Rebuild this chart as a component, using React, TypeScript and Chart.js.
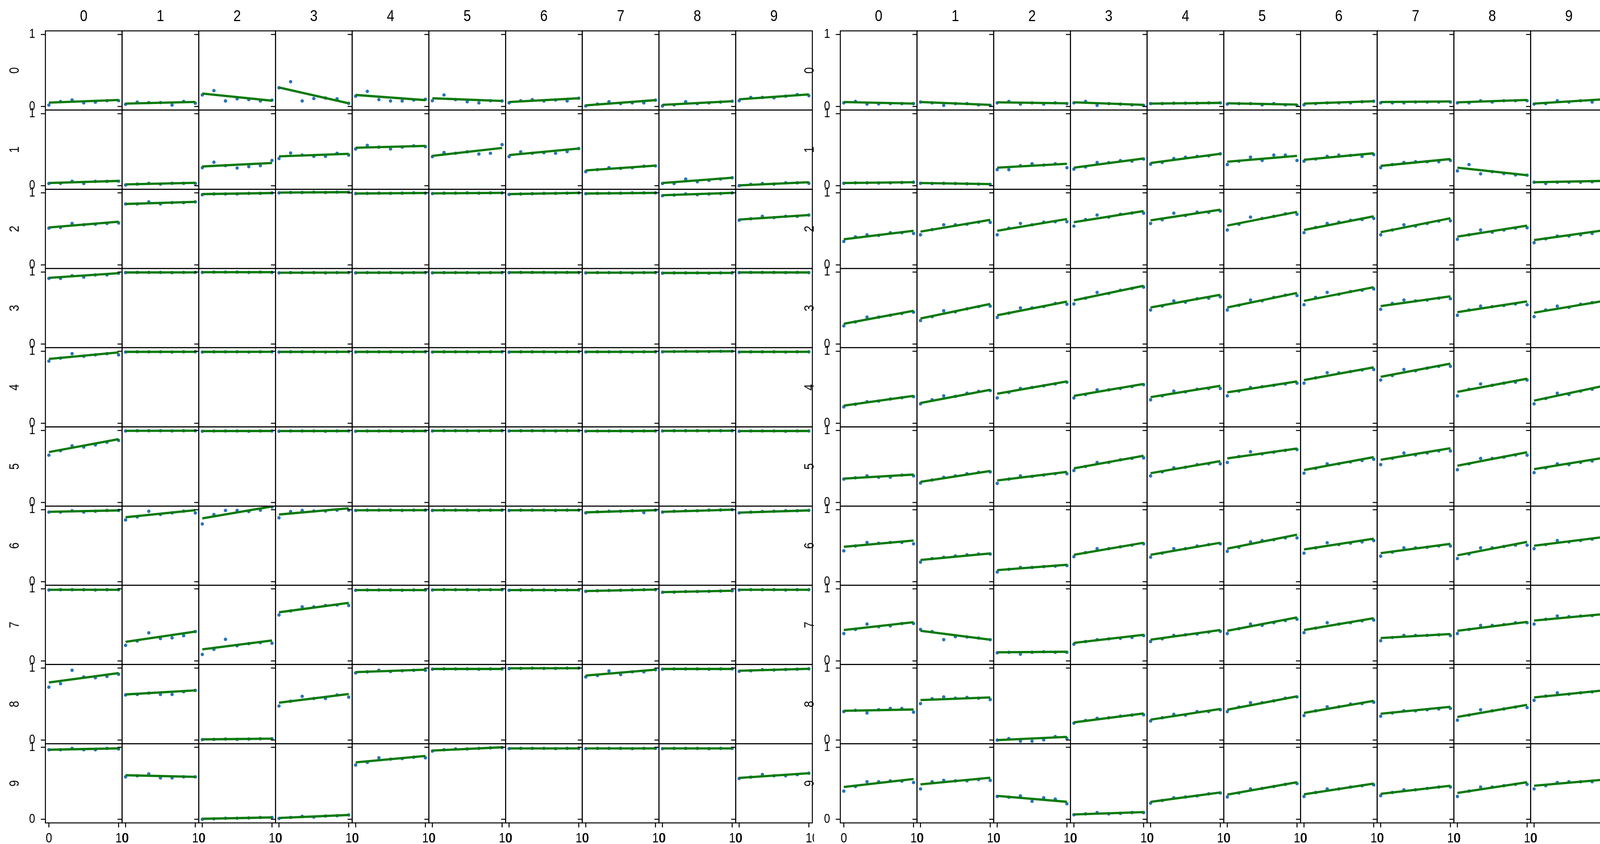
import React, { useEffect, useRef } from 'react';
import { Chart, registerables } from 'chart.js';

Chart.register(...registerables);

// ---------------- data ----------------
const X_VALUES = [0, 1.67, 3.33, 5, 6.67, 8.33, 10];
const FIT_X = [0, 10];
const ROW_LABELS = ['0', '1', '2', '3', '4', '5', '6', '7', '8', '9'];
const COL_LABELS = ['0', '1', '2', '3', '4', '5', '6', '7', '8', '9'];
const X_TICKS = [0, 10];
const X_TICK_LABELS = ['0', '10'];
const Y_TICKS = [0, 1];
const Y_TICK_LABELS = ['0', '1'];

// Left panel: points per row (10 cells x 7 points) and fitted line ends [y at x=0, y at x=10]
const LEFT_PTS_0 = [
  [0.02, 0.068, 0.09, 0.05, 0.06, 0.08, 0.08],
  [0.03, 0.06, 0.054, 0.054, 0.02, 0.07, 0.045],
  [0.16, 0.22, 0.077, 0.106, 0.095, 0.077, 0.088],
  [0.26, 0.344, 0.077, 0.11, 0.117, 0.106, 0.044],
  [0.143, 0.21, 0.095, 0.077, 0.077, 0.09, 0.1],
  [0.08, 0.16, 0.095, 0.066, 0.05, 0.08, 0.077],
  [0.05, 0.08, 0.095, 0.077, 0.09, 0.077, 0.114],
  [0.007, 0.033, 0.066, 0.04, 0.05, 0.05, 0.088],
  [0.007, 0.022, 0.066, 0.04, 0.05, 0.062, 0.073],
  [0.08, 0.125, 0.125, 0.12, 0.143, 0.165, 0.15],
];
const LEFT_FIT_0 = [
  [0.054, 0.09], [0.04, 0.063], [0.18, 0.08], [0.264, 0.044], [0.16, 0.088],
  [0.114, 0.077], [0.062, 0.114], [0.015, 0.088], [0.022, 0.073], [0.1, 0.168],
];
const LEFT_PTS_1 = [
  [0.03, 0.033, 0.062, 0.03, 0.06, 0.06, 0.062],
  [0.01, 0.022, 0.033, 0.022, 0.033, 0.033, 0.03],
  [0.25, 0.326, 0.278, 0.245, 0.264, 0.278, 0.35],
  [0.377, 0.454, 0.425, 0.407, 0.407, 0.45, 0.425],
  [0.51, 0.56, 0.535, 0.51, 0.535, 0.553, 0.542],
  [0.403, 0.46, 0.45, 0.47, 0.44, 0.45, 0.57],
  [0.403, 0.47, 0.45, 0.458, 0.45, 0.473, 0.516],
  [0.194, 0.223, 0.25, 0.24, 0.25, 0.27, 0.275],
  [0.03, 0.03, 0.092, 0.055, 0.073, 0.092, 0.11],
  [0.0, 0.018, 0.03, 0.022, 0.04, 0.04, 0.033],
];
const LEFT_FIT_1 = [
  [0.037, 0.066], [0.018, 0.04], [0.267, 0.315], [0.407, 0.443], [0.527, 0.553],
  [0.414, 0.524], [0.425, 0.516], [0.212, 0.278], [0.037, 0.11], [0.004, 0.048],
];
const LEFT_PTS_2 = [
  [0.51, 0.52, 0.575, 0.557, 0.564, 0.575, 0.582],
  [0.846, 0.846, 0.875, 0.846, 0.864, 0.864, 0.875],
  [0.974, 0.985, 0.985, 0.985, 0.993, 0.993, 1.0],
  [1.0, 1.005, 1.005, 1.01, 1.005, 1.01, 1.01],
  [0.99, 0.993, 0.996, 0.993, 0.996, 1.0, 0.996],
  [0.99, 0.996, 0.996, 1.0, 0.996, 1.0, 1.0],
  [0.978, 0.985, 0.989, 0.993, 0.993, 0.996, 1.0],
  [0.989, 0.993, 0.996, 0.996, 1.0, 1.0, 1.0],
  [0.96, 0.97, 0.985, 0.975, 0.985, 0.99, 1.0],
  [0.62, 0.64, 0.674, 0.656, 0.674, 0.674, 0.692],
];
const LEFT_FIT_2 = [
  [0.52, 0.6], [0.846, 0.875], [0.983, 0.998], [1.004, 1.01], [0.991, 0.999],
  [0.993, 1.0], [0.983, 1.0], [0.991, 1.0], [0.967, 1.0], [0.63, 0.692],
];
const LEFT_PTS_3 = [
  [0.912, 0.912, 0.95, 0.93, 0.96, 0.96, 0.985],
  [0.993, 0.996, 0.996, 0.996, 0.993, 0.996, 0.996],
  [0.996, 1.0, 1.0, 1.0, 0.996, 1.0, 0.996],
  [0.989, 0.993, 0.993, 0.993, 0.989, 0.993, 0.993],
  [0.989, 0.993, 0.993, 0.993, 0.989, 0.993, 0.993],
  [0.989, 0.993, 0.993, 0.993, 0.989, 0.993, 0.993],
  [0.993, 0.996, 0.996, 0.996, 0.993, 0.996, 0.993],
  [0.989, 0.993, 0.993, 0.993, 0.989, 0.993, 0.993],
  [0.985, 0.989, 0.989, 0.989, 0.985, 0.989, 0.989],
  [0.993, 0.996, 0.996, 0.996, 0.993, 0.996, 0.993],
];
const LEFT_FIT_3 = [
  [0.92, 0.985], [0.995, 0.996], [0.998, 0.999], [0.992, 0.993], [0.992, 0.993],
  [0.992, 0.993], [0.995, 0.995], [0.992, 0.993], [0.988, 0.989], [0.995, 0.995],
];
const LEFT_PTS_4 = [
  [0.864, 0.905, 0.967, 0.93, 0.95, 0.967, 0.95],
  [0.989, 0.993, 0.993, 0.993, 0.989, 0.993, 0.993],
  [0.989, 0.993, 0.993, 0.993, 0.989, 0.993, 0.993],
  [0.989, 0.993, 0.993, 0.993, 0.989, 0.993, 0.993],
  [0.989, 0.993, 0.993, 0.993, 0.989, 0.993, 0.993],
  [0.989, 0.993, 0.993, 0.993, 0.989, 0.993, 0.993],
  [0.989, 0.993, 0.993, 0.993, 0.989, 0.993, 0.993],
  [0.989, 0.993, 0.993, 0.993, 0.989, 0.993, 0.993],
  [0.993, 0.996, 1.0, 0.996, 0.996, 1.0, 1.0],
  [0.989, 0.993, 0.993, 0.993, 0.989, 0.993, 0.993],
];
const LEFT_FIT_4 = [
  [0.894, 0.985], [0.992, 0.993], [0.992, 0.993], [0.992, 0.993], [0.992, 0.993],
  [0.992, 0.993], [0.992, 0.993], [0.992, 0.993], [0.995, 1.0], [0.992, 0.993],
];
const LEFT_PTS_5 = [
  [0.657, 0.72, 0.787, 0.77, 0.8, 0.836, 0.862],
  [0.993, 0.996, 0.996, 0.996, 0.993, 0.996, 0.996],
  [0.989, 0.993, 0.993, 0.993, 0.989, 0.993, 0.993],
  [0.989, 0.993, 0.993, 0.993, 0.989, 0.993, 0.993],
  [0.989, 0.993, 0.993, 0.993, 0.989, 0.993, 0.993],
  [0.993, 0.996, 0.996, 0.996, 0.993, 0.996, 0.996],
  [0.993, 0.996, 0.996, 0.996, 0.993, 0.996, 0.996],
  [0.989, 0.993, 0.993, 0.993, 0.989, 0.993, 0.993],
  [0.993, 0.996, 0.996, 0.996, 0.993, 0.996, 0.996],
  [0.989, 0.993, 0.993, 0.993, 0.989, 0.993, 0.993],
];
const LEFT_FIT_5 = [
  [0.7, 0.88], [0.995, 0.996], [0.992, 0.993], [0.992, 0.993], [0.992, 0.993],
  [0.995, 0.996], [0.995, 0.996], [0.992, 0.993], [0.995, 0.996], [0.992, 0.993],
];
const LEFT_PTS_6 = [
  [0.966, 0.966, 0.985, 0.966, 0.978, 0.989, 0.989],
  [0.858, 0.9, 0.978, 0.933, 0.955, 0.98, 0.955],
  [0.802, 0.933, 0.989, 0.989, 0.974, 0.993, 1.037],
  [0.888, 0.974, 0.989, 0.981, 0.981, 0.993, 0.993],
  [0.989, 0.993, 0.993, 0.993, 0.989, 0.993, 0.993],
  [0.989, 0.993, 0.993, 0.993, 0.989, 0.993, 0.993],
  [0.989, 0.993, 0.993, 0.993, 0.989, 0.993, 0.993],
  [0.955, 0.97, 0.978, 0.978, 0.985, 0.96, 0.993],
  [0.966, 0.978, 0.985, 0.985, 0.993, 0.996, 1.0],
  [0.955, 0.966, 0.974, 0.978, 0.985, 0.985, 0.99],
];
const LEFT_FIT_6 = [
  [0.97, 0.99], [0.895, 0.993], [0.88, 1.045], [0.933, 1.019], [0.992, 0.993],
  [0.992, 0.993], [0.992, 0.993], [0.963, 0.993], [0.97, 1.0], [0.96, 0.99],
];
const LEFT_PTS_7 = [
  [0.985, 0.989, 0.989, 0.989, 0.985, 0.989, 0.989],
  [0.216, 0.276, 0.39, 0.31, 0.32, 0.35, 0.407],
  [0.09, 0.16, 0.3, 0.21, 0.24, 0.254, 0.246],
  [0.638, 0.694, 0.75, 0.75, 0.77, 0.776, 0.77],
  [0.981, 0.985, 0.985, 0.985, 0.981, 0.985, 0.985],
  [0.985, 0.989, 0.989, 0.989, 0.985, 0.989, 0.989],
  [0.981, 0.985, 0.985, 0.985, 0.981, 0.985, 0.985],
  [0.966, 0.974, 0.978, 0.981, 0.985, 0.989, 0.989],
  [0.952, 0.955, 0.963, 0.963, 0.966, 0.97, 0.974],
  [0.985, 0.989, 0.989, 0.989, 0.985, 0.989, 0.989],
];
const LEFT_FIT_7 = [
  [0.988, 0.988], [0.265, 0.407], [0.16, 0.284], [0.675, 0.806], [0.984, 0.984],
  [0.988, 0.988], [0.984, 0.984], [0.97, 0.99], [0.955, 0.974], [0.988, 0.988],
];
const LEFT_PTS_8 = [
  [0.735, 0.784, 0.97, 0.877, 0.866, 0.884, 0.914],
  [0.627, 0.634, 0.653, 0.634, 0.634, 0.672, 0.69],
  [0.007, 0.01, 0.015, 0.011, 0.015, 0.019, 0.019],
  [0.474, 0.54, 0.608, 0.578, 0.578, 0.627, 0.597],
  [0.933, 0.948, 0.97, 0.952, 0.963, 0.97, 0.97],
  [0.985, 0.989, 0.989, 0.989, 0.985, 0.989, 0.989],
  [0.993, 0.996, 1.0, 0.996, 0.996, 1.0, 1.0],
  [0.877, 0.896, 0.96, 0.91, 0.948, 0.948, 0.978],
  [0.985, 0.989, 0.989, 0.989, 0.985, 0.989, 0.989],
  [0.955, 0.963, 0.978, 0.974, 0.981, 0.985, 0.99],
];
const LEFT_FIT_8 = [
  [0.8, 0.93], [0.634, 0.69], [0.01, 0.02], [0.52, 0.64], [0.944, 0.978],
  [0.988, 0.988], [0.997, 0.998], [0.896, 0.978], [0.988, 0.988], [0.963, 0.99],
];
const LEFT_PTS_9 = [
  [0.966, 0.966, 0.985, 0.966, 0.966, 0.985, 0.978],
  [0.59, 0.605, 0.63, 0.575, 0.575, 0.59, 0.59],
  [0.0, 0.007, 0.015, 0.015, 0.019, 0.026, 0.026],
  [0.011, 0.026, 0.04, 0.03, 0.045, 0.05, 0.06],
  [0.754, 0.79, 0.854, 0.836, 0.843, 0.862, 0.854],
  [0.948, 0.966, 0.978, 0.978, 0.985, 0.993, 0.996],
  [0.981, 0.985, 0.985, 0.985, 0.981, 0.985, 0.985],
  [0.981, 0.985, 0.985, 0.985, 0.981, 0.985, 0.985],
  [0.981, 0.985, 0.985, 0.985, 0.981, 0.985, 0.985],
  [0.567, 0.586, 0.623, 0.605, 0.605, 0.62, 0.64],
];
const LEFT_FIT_9 = [
  [0.966, 0.985], [0.612, 0.59], [0.007, 0.026], [0.019, 0.06], [0.79, 0.88],
  [0.955, 1.0], [0.984, 0.984], [0.984, 0.984], [0.984, 0.984], [0.575, 0.64],
];

// Right panel
const RIGHT_PTS_0 = [
  [0.05, 0.07, 0.033, 0.035, 0.04, 0.04, 0.04],
  [0.062, 0.05, 0.015, 0.04, 0.04, 0.022, 0.015],
  [0.05, 0.07, 0.033, 0.05, 0.033, 0.05, 0.04],
  [0.05, 0.07, 0.015, 0.04, 0.033, 0.022, 0.015],
  [0.04, 0.04, 0.045, 0.045, 0.045, 0.05, 0.05],
  [0.033, 0.04, 0.04, 0.022, 0.04, 0.022, 0.015],
  [0.022, 0.04, 0.05, 0.05, 0.05, 0.066, 0.073],
  [0.05, 0.05, 0.05, 0.062, 0.062, 0.062, 0.062],
  [0.05, 0.05, 0.08, 0.062, 0.08, 0.08, 0.08],
  [0.033, 0.04, 0.08, 0.062, 0.08, 0.062, 0.1],
];
const RIGHT_FIT_0 = [
  [0.062, 0.04], [0.062, 0.022], [0.058, 0.044], [0.058, 0.022], [0.04, 0.05],
  [0.044, 0.026], [0.04, 0.073], [0.062, 0.07], [0.058, 0.09], [0.04, 0.1],
];
const RIGHT_PTS_1 = [
  [0.033, 0.04, 0.04, 0.037, 0.04, 0.044, 0.048],
  [0.033, 0.03, 0.033, 0.03, 0.026, 0.022, 0.018],
  [0.223, 0.223, 0.278, 0.304, 0.286, 0.304, 0.25],
  [0.23, 0.26, 0.322, 0.32, 0.348, 0.34, 0.37],
  [0.297, 0.322, 0.377, 0.395, 0.407, 0.414, 0.443],
  [0.293, 0.34, 0.395, 0.35, 0.425, 0.425, 0.35],
  [0.34, 0.37, 0.407, 0.425, 0.42, 0.407, 0.432],
  [0.25, 0.293, 0.322, 0.333, 0.333, 0.333, 0.35],
  [0.205, 0.293, 0.165, 0.194, 0.168, 0.15, 0.146],
  [0.048, 0.03, 0.048, 0.048, 0.048, 0.055, 0.066],
];
const RIGHT_FIT_1 = [
  [0.037, 0.048], [0.037, 0.022], [0.25, 0.304], [0.25, 0.377], [0.315, 0.443],
  [0.333, 0.414], [0.36, 0.45], [0.275, 0.37], [0.25, 0.146], [0.048, 0.066],
];
const RIGHT_PTS_2 = [
  [0.326, 0.388, 0.418, 0.41, 0.447, 0.447, 0.436],
  [0.418, 0.49, 0.557, 0.557, 0.564, 0.593, 0.59],
  [0.418, 0.51, 0.575, 0.557, 0.593, 0.6, 0.6],
  [0.538, 0.63, 0.692, 0.663, 0.703, 0.72, 0.718],
  [0.575, 0.626, 0.718, 0.685, 0.733, 0.729, 0.747],
  [0.484, 0.564, 0.663, 0.645, 0.674, 0.71, 0.703],
  [0.447, 0.52, 0.575, 0.593, 0.619, 0.63, 0.645],
  [0.418, 0.484, 0.557, 0.538, 0.575, 0.608, 0.612],
  [0.355, 0.418, 0.484, 0.454, 0.484, 0.51, 0.516],
  [0.308, 0.362, 0.4, 0.4, 0.418, 0.436, 0.47],
];
const RIGHT_FIT_2 = [
  [0.355, 0.473], [0.462, 0.626], [0.473, 0.637], [0.593, 0.747], [0.619, 0.766],
  [0.546, 0.736], [0.484, 0.674], [0.454, 0.648], [0.392, 0.546], [0.344, 0.48],
];
const RIGHT_PTS_3 = [
  [0.253, 0.308, 0.374, 0.374, 0.4, 0.425, 0.443],
  [0.326, 0.381, 0.462, 0.447, 0.49, 0.52, 0.527],
  [0.37, 0.43, 0.502, 0.502, 0.52, 0.564, 0.553],
  [0.557, 0.637, 0.718, 0.703, 0.747, 0.773, 0.791],
  [0.473, 0.527, 0.6, 0.582, 0.63, 0.637, 0.656],
  [0.473, 0.538, 0.612, 0.6, 0.648, 0.68, 0.674],
  [0.546, 0.648, 0.718, 0.692, 0.73, 0.747, 0.766],
  [0.483, 0.564, 0.612, 0.6, 0.612, 0.637, 0.63],
  [0.4, 0.473, 0.527, 0.52, 0.535, 0.557, 0.546],
  [0.381, 0.473, 0.527, 0.509, 0.553, 0.575, 0.59],
];
const RIGHT_FIT_3 = [
  [0.282, 0.462], [0.355, 0.557], [0.4, 0.59], [0.608, 0.81], [0.509, 0.685],
  [0.509, 0.71], [0.6, 0.79], [0.527, 0.663], [0.443, 0.593], [0.436, 0.6],
];
const RIGHT_PTS_4 = [
  [0.227, 0.264, 0.3, 0.308, 0.337, 0.355, 0.37],
  [0.27, 0.326, 0.381, 0.374, 0.418, 0.443, 0.454],
  [0.352, 0.43, 0.484, 0.498, 0.52, 0.546, 0.571],
  [0.352, 0.399, 0.465, 0.465, 0.484, 0.509, 0.535],
  [0.326, 0.381, 0.447, 0.436, 0.473, 0.483, 0.483],
  [0.381, 0.447, 0.498, 0.509, 0.527, 0.546, 0.557],
  [0.557, 0.63, 0.703, 0.699, 0.718, 0.74, 0.747],
  [0.6, 0.663, 0.747, 0.729, 0.766, 0.791, 0.791],
  [0.381, 0.473, 0.546, 0.527, 0.557, 0.571, 0.6],
  [0.27, 0.344, 0.418, 0.4, 0.447, 0.473, 0.5],
];
const RIGHT_FIT_4 = [
  [0.245, 0.381], [0.282, 0.465], [0.41, 0.582], [0.381, 0.546], [0.363, 0.52],
  [0.43, 0.582], [0.6, 0.777], [0.645, 0.828], [0.436, 0.619], [0.315, 0.52],
];
const RIGHT_PTS_5 = [
  [0.325, 0.343, 0.37, 0.35, 0.35, 0.38, 0.37],
  [0.269, 0.313, 0.35, 0.37, 0.4, 0.418, 0.425],
  [0.265, 0.325, 0.37, 0.362, 0.38, 0.4, 0.4],
  [0.444, 0.5, 0.556, 0.556, 0.593, 0.612, 0.619],
  [0.37, 0.425, 0.481, 0.489, 0.526, 0.537, 0.537],
  [0.556, 0.638, 0.705, 0.675, 0.698, 0.724, 0.735],
  [0.407, 0.474, 0.537, 0.537, 0.563, 0.582, 0.6],
  [0.526, 0.612, 0.687, 0.66, 0.687, 0.716, 0.716],
  [0.455, 0.537, 0.612, 0.612, 0.63, 0.66, 0.657],
  [0.414, 0.481, 0.537, 0.526, 0.556, 0.575, 0.6],
];
const RIGHT_FIT_5 = [
  [0.332, 0.388], [0.287, 0.437], [0.306, 0.425], [0.474, 0.649], [0.407, 0.575],
  [0.612, 0.75], [0.451, 0.63], [0.593, 0.754], [0.511, 0.698], [0.463, 0.62],
];
const RIGHT_PTS_6 = [
  [0.429, 0.496, 0.545, 0.534, 0.545, 0.545, 0.526],
  [0.272, 0.321, 0.34, 0.358, 0.373, 0.384, 0.384],
  [0.134, 0.172, 0.198, 0.198, 0.209, 0.216, 0.224],
  [0.347, 0.403, 0.459, 0.459, 0.485, 0.507, 0.526],
  [0.34, 0.396, 0.459, 0.459, 0.496, 0.515, 0.526],
  [0.422, 0.478, 0.552, 0.571, 0.582, 0.608, 0.608],
  [0.396, 0.47, 0.541, 0.515, 0.534, 0.552, 0.571],
  [0.354, 0.41, 0.47, 0.47, 0.478, 0.496, 0.496],
  [0.321, 0.384, 0.47, 0.47, 0.489, 0.507, 0.507],
  [0.459, 0.515, 0.571, 0.552, 0.571, 0.59, 0.6],
];
const RIGHT_FIT_6 = [
  [0.485, 0.571], [0.302, 0.392], [0.16, 0.235], [0.373, 0.541], [0.373, 0.541],
  [0.459, 0.653], [0.448, 0.597], [0.396, 0.526], [0.366, 0.552], [0.5, 0.62],
];
const RIGHT_PTS_7 = [
  [0.38, 0.437, 0.511, 0.474, 0.485, 0.519, 0.519],
  [0.437, 0.407, 0.295, 0.336, 0.332, 0.317, 0.295],
  [0.112, 0.119, 0.093, 0.119, 0.127, 0.119, 0.119],
  [0.231, 0.269, 0.295, 0.306, 0.313, 0.325, 0.351],
  [0.269, 0.306, 0.354, 0.362, 0.373, 0.399, 0.41],
  [0.38, 0.448, 0.511, 0.493, 0.53, 0.56, 0.578],
  [0.392, 0.455, 0.53, 0.511, 0.53, 0.556, 0.567],
  [0.28, 0.325, 0.354, 0.354, 0.354, 0.362, 0.351],
  [0.38, 0.437, 0.493, 0.493, 0.504, 0.53, 0.53],
  [0.511, 0.578, 0.623, 0.615, 0.623, 0.63, 0.64],
];
const RIGHT_FIT_7 = [
  [0.429, 0.537], [0.418, 0.295], [0.119, 0.127], [0.25, 0.362], [0.295, 0.429],
  [0.418, 0.604], [0.429, 0.593], [0.317, 0.373], [0.418, 0.541], [0.56, 0.65],
];
const RIGHT_PTS_8 = [
  [0.396, 0.414, 0.377, 0.422, 0.44, 0.44, 0.388],
  [0.507, 0.575, 0.6, 0.582, 0.593, 0.582, 0.563],
  [0.0, 0.022, -0.015, -0.015, 0.004, 0.049, 0.022],
  [0.235, 0.272, 0.302, 0.31, 0.332, 0.347, 0.351],
  [0.265, 0.31, 0.358, 0.347, 0.396, 0.396, 0.422],
  [0.396, 0.459, 0.519, 0.519, 0.545, 0.582, 0.6],
  [0.34, 0.407, 0.463, 0.463, 0.5, 0.507, 0.526],
  [0.332, 0.377, 0.407, 0.407, 0.422, 0.433, 0.44],
  [0.276, 0.347, 0.422, 0.407, 0.433, 0.459, 0.451],
  [0.552, 0.612, 0.657, 0.638, 0.657, 0.67, 0.68],
];
const RIGHT_FIT_8 = [
  [0.407, 0.425], [0.556, 0.593], [0.0, 0.045], [0.246, 0.37], [0.284, 0.433],
  [0.422, 0.608], [0.377, 0.545], [0.366, 0.463], [0.321, 0.489], [0.593, 0.69],
];
const RIGHT_PTS_9 = [
  [0.392, 0.455, 0.522, 0.522, 0.534, 0.53, 0.511],
  [0.422, 0.522, 0.541, 0.534, 0.534, 0.552, 0.541],
  [0.317, 0.306, 0.325, 0.25, 0.299, 0.28, 0.216],
  [0.063, 0.075, 0.093, 0.075, 0.082, 0.093, 0.093],
  [0.224, 0.261, 0.299, 0.31, 0.325, 0.354, 0.366],
  [0.31, 0.366, 0.422, 0.429, 0.455, 0.485, 0.496],
  [0.317, 0.373, 0.422, 0.422, 0.448, 0.466, 0.478],
  [0.328, 0.373, 0.41, 0.41, 0.429, 0.448, 0.448],
  [0.317, 0.392, 0.448, 0.448, 0.466, 0.485, 0.485],
  [0.422, 0.466, 0.511, 0.522, 0.522, 0.522, 0.54],
];
const RIGHT_FIT_9 = [
  [0.448, 0.56], [0.485, 0.578], [0.325, 0.243], [0.067, 0.1], [0.243, 0.373],
  [0.343, 0.515], [0.347, 0.496], [0.354, 0.466], [0.366, 0.515], [0.466, 0.55],
];

const LEFT_PTS = [LEFT_PTS_0, LEFT_PTS_1, LEFT_PTS_2, LEFT_PTS_3, LEFT_PTS_4, LEFT_PTS_5, LEFT_PTS_6, LEFT_PTS_7, LEFT_PTS_8, LEFT_PTS_9];
const LEFT_FIT = [LEFT_FIT_0, LEFT_FIT_1, LEFT_FIT_2, LEFT_FIT_3, LEFT_FIT_4, LEFT_FIT_5, LEFT_FIT_6, LEFT_FIT_7, LEFT_FIT_8, LEFT_FIT_9];
const RIGHT_PTS = [RIGHT_PTS_0, RIGHT_PTS_1, RIGHT_PTS_2, RIGHT_PTS_3, RIGHT_PTS_4, RIGHT_PTS_5, RIGHT_PTS_6, RIGHT_PTS_7, RIGHT_PTS_8, RIGHT_PTS_9];
const RIGHT_FIT = [RIGHT_FIT_0, RIGHT_FIT_1, RIGHT_FIT_2, RIGHT_FIT_3, RIGHT_FIT_4, RIGHT_FIT_5, RIGHT_FIT_6, RIGHT_FIT_7, RIGHT_FIT_8, RIGHT_FIT_9];

// ---------------- styling / layout (design units = 4230 x 2160 page) ----------------
const DESIGN_W = 4230;
const DESIGN_H = 2160;
const S = typeof window !== 'undefined' && window.innerWidth > 0 ? window.innerWidth / DESIGN_W : 1;
const SY = typeof window !== 'undefined' && window.innerHeight > 0 ? window.innerHeight / DESIGN_H : 1;
const px = (v: number) => v * S;
const py = (v: number) => v * SY;

const FIG_W = Math.round(px(2152));
const FIG_H = Math.round(py(2160));
const RIGHT_OFFSET = Math.round(px(2102));
const PAGE_W = Math.round(px(DESIGN_W));
const PAD = { left: px(120), top: py(79), right: FIG_W - px(120) - px(2030), bottom: FIG_H - py(2106) };
const GREEN = '#0a7a0a';
const BLUE = '#2b76b5';
const FONT = '"Liberation Sans", Arial, sans-serif';
const TICK_LEN = px(12);
const LINE_W = px(2.6);

function drawLabel(ctx: CanvasRenderingContext2D, text: string, x: number, y: number, size: number, rotate = false, anchorFirst = false) {
  ctx.save();
  ctx.translate(x, y);
  if (rotate) ctx.rotate(-Math.PI / 2);
  ctx.scale(0.85, 1);
  ctx.font = `${size}px ${FONT}`;
  ctx.fillStyle = '#000';
  ctx.textBaseline = 'middle';
  if (anchorFirst) {
    // put the first glyph on the tick, as in the reference
    const w = ctx.measureText(text.charAt(0)).width;
    ctx.textAlign = 'left';
    ctx.fillText(text, -w / 2, 0);
  } else {
    ctx.textAlign = 'center';
    ctx.fillText(text, 0, 0);
  }
  ctx.restore();
}

const framePlugin = {
  id: 'gridFrames',
  afterDatasetsDraw(chart: any) {
    const ctx: CanvasRenderingContext2D = chart.ctx;
    ctx.save();
    ctx.strokeStyle = '#000';
    ctx.lineWidth = LINE_W;
    const nR = ROW_LABELS.length;
    for (let r = 0; r < nR; r++) {
      const ys = chart.scales['y' + r];
      for (let c = 0; c < COL_LABELS.length; c++) {
        const xs = chart.scales['x' + c];
        ctx.strokeRect(xs.left, ys.top, xs.right - xs.left, ys.bottom - ys.top);
        ctx.beginPath();
        Y_TICKS.forEach((v) => {
          const yy = ys.getPixelForValue(v);
          ctx.moveTo(xs.left - TICK_LEN, yy);
          ctx.lineTo(xs.left, yy);
        });
        if (r === nR - 1) {
          X_TICKS.forEach((v) => {
            const xx = xs.getPixelForValue(v);
            ctx.moveTo(xx, ys.bottom);
            ctx.lineTo(xx, ys.bottom + TICK_LEN);
          });
        }
        ctx.stroke();
      }
    }
    const x0 = chart.scales['x0'];
    for (let r = 0; r < nR; r++) {
      const ys = chart.scales['y' + r];
      Y_TICKS.forEach((v, i) => {
        drawLabel(ctx, Y_TICK_LABELS[i], x0.left - px(35), ys.getPixelForValue(v), px(34));
      });
      drawLabel(ctx, ROW_LABELS[r], px(40), (ys.top + ys.bottom) / 2, px(36), true);
    }
    const yLast = chart.scales['y' + (nR - 1)];
    for (let c = 0; c < COL_LABELS.length; c++) {
      const xs = chart.scales['x' + c];
      X_TICKS.forEach((v, i) => {
        drawLabel(ctx, X_TICK_LABELS[i], xs.getPixelForValue(v), yLast.bottom + py(40), px(36), false, i > 0);
      });
      drawLabel(ctx, COL_LABELS[c], (xs.left + xs.right) / 2, py(43), px(42));
    }
    ctx.restore();
  },
};

function buildConfig(pts: number[][][], fit: number[][][]) {
  const datasets: any[] = [];
  for (let r = 0; r < ROW_LABELS.length; r++) {
    for (let c = 0; c < COL_LABELS.length; c++) {
      datasets.push({
        label: `fit ${r}-${c}`,
        data: FIT_X.map((x, i) => ({ x, y: fit[r][c][i] })),
        xAxisID: 'x' + c,
        yAxisID: 'y' + r,
        showLine: true,
        borderColor: GREEN,
        borderWidth: px(6),
        pointRadius: 0,
        order: 0,
      });
      datasets.push({
        label: `obs ${r}-${c}`,
        data: X_VALUES.map((x, i) => ({ x, y: pts[r][c][i] })),
        xAxisID: 'x' + c,
        yAxisID: 'y' + r,
        backgroundColor: BLUE,
        borderWidth: 0,
        pointRadius: px(4.5),
        order: 1,
      });
    }
  }
  const scales: any = {};
  COL_LABELS.forEach((_, c) => {
    scales['x' + c] = {
      type: 'linear', axis: 'x', position: 'bottom', stack: 'cols', stackWeight: 1, weight: c,
      min: -0.5, max: 10.5, display: false,
    };
  });
  ROW_LABELS.forEach((_, r) => {
    scales['y' + r] = {
      type: 'linear', axis: 'y', position: 'left', stack: 'rows', stackWeight: 1, weight: 10 - r,
      min: -0.05, max: 1.05, display: false,
    };
  });
  return {
    type: 'scatter' as const,
    data: { datasets },
    options: {
      animation: false,
      responsive: false,
      events: [],
      layout: { padding: PAD },
      plugins: { legend: { display: false }, tooltip: { enabled: false } },
      scales,
    },
    plugins: [framePlugin],
  };
}

function Figure({ pts, fit }: { pts: number[][][]; fit: number[][][] }) {
  const ref = useRef<HTMLCanvasElement>(null);
  useEffect(() => {
    if (!ref.current) return;
    const chart = new Chart(ref.current, buildConfig(pts, fit) as any);
    return () => chart.destroy();
  }, [pts, fit]);
  return <canvas ref={ref} width={FIG_W} height={FIG_H} style={{ width: FIG_W, height: FIG_H, display: 'block' }} />;
}

export default function App() {
  useEffect(() => {
    document.body.style.margin = '0';
    document.body.style.background = '#fff';
    document.body.style.overflow = 'hidden';
    document.documentElement.style.overflow = 'hidden';
  }, []);
  return (
    <div style={{ position: 'relative', width: PAGE_W, height: FIG_H, overflow: 'hidden', background: '#fff' }}>
      <div style={{ position: 'absolute', left: 0, top: 0, width: FIG_W, height: FIG_H }}>
        <Figure pts={LEFT_PTS} fit={LEFT_FIT} />
      </div>
      <div style={{ position: 'absolute', left: RIGHT_OFFSET, top: 0, width: PAGE_W - RIGHT_OFFSET, height: FIG_H, overflow: 'hidden' }}>
        <Figure pts={RIGHT_PTS} fit={RIGHT_FIT} />
      </div>
    </div>
  );
}
